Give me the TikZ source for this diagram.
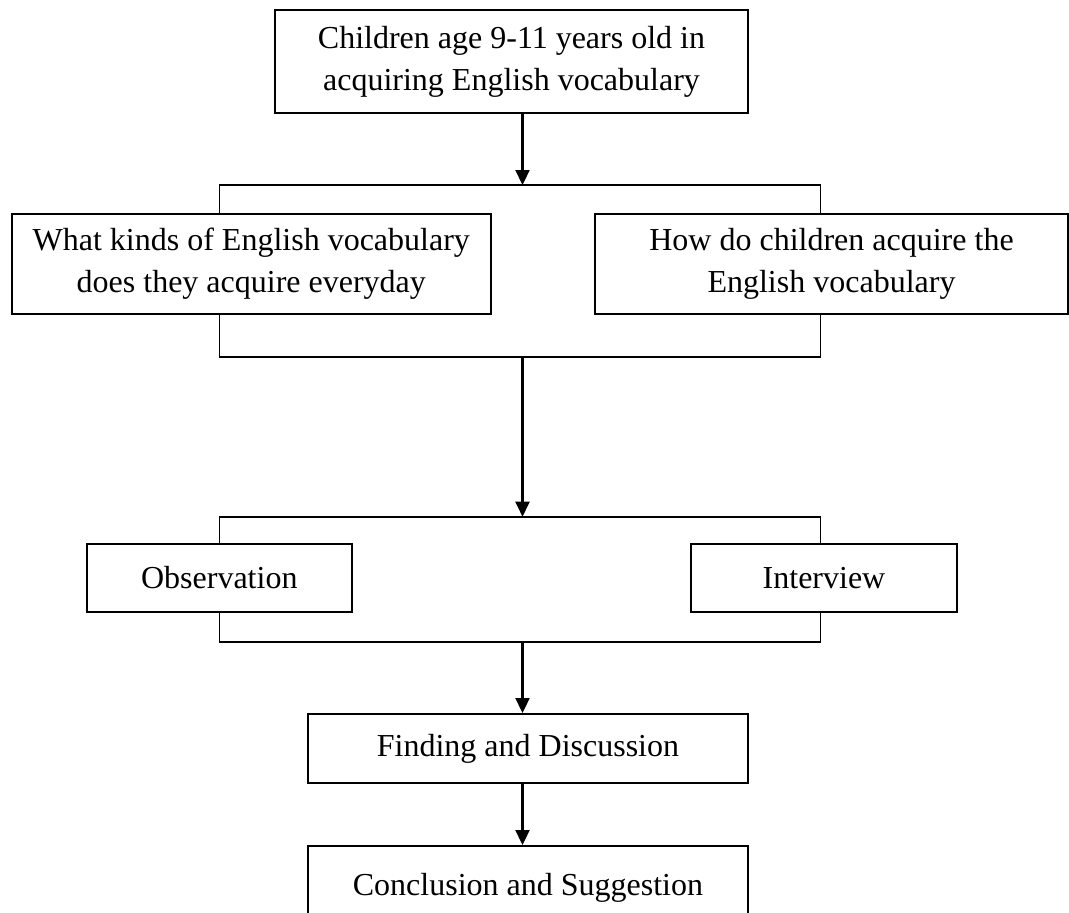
\documentclass[tikz,border=0pt]{standalone}
\usepackage{fontspec}
\setmainfont{Liberation Serif}
\usepackage{tikz}
\usetikzlibrary{
  arrows.meta,
  calc
}
\tikzset{
  flowbox/.style={
    draw, line width=1pt, align=center, inner sep=0pt,
    font=\fontsize{16}{21}\selectfont
  },
  bigbox/.style={flowbox, minimum height=50pt},
  smallbox/.style={flowbox, minimum height=34pt},
  bracketline/.style={line width=0.8pt},
  flow/.style={-{Triangle[length=7.5pt, width=7pt]}, line width=1.1pt}
}

\begin{document}
\begin{tikzpicture}[x=0.5pt, y=-0.5pt]
  \useasboundingbox (0,0) rectangle (1069,912);
  \clip (0,0) rectangle (1069,912);
  % boxes
  \node[bigbox, minimum width=236.5pt, minimum height=51.5pt] (a) at (511.5,61.5)
    {Children age 9-11 years old in\\acquiring English vocabulary};
  \node[bigbox, minimum width=239.7pt] (b) at (251.3,264)
    {What kinds of English vocabulary\\does they acquire everyday};
  \node[bigbox, minimum width=236.5pt] (c) at (831.5,264)
    {How do children acquire the\\English vocabulary};
  \node[smallbox, minimum width=132.7pt] (d) at (219.3,578) {Observation};
  \node[smallbox, minimum width=133pt] (e) at (824,578) {Interview};
  \node[smallbox, minimum width=220pt, minimum height=34.5pt] (f) at (528,748.5)
    {Finding and Discussion};
  \node[smallbox, minimum width=220pt, minimum height=42pt] (g) at (528,888)
    {Conclusion and Suggestion};
  % bracket corners and spine
  \coordinate (spine) at (522.5,0);
  \coordinate (b1l) at (219.5,185);
  \coordinate (b1r) at (820.5,185);
  \coordinate (b2l) at (219.5,356.7);
  \coordinate (b2r) at (820.5,356.7);
  \coordinate (b3l) at (219.5,516.7);
  \coordinate (b3r) at (820.5,516.7);
  \coordinate (b4l) at (219.5,641.7);
  \coordinate (b4r) at (820.5,641.7);
  % brackets
  \draw[bracketline] (b1l |- b.north) -- (b1l) -- (b1r) -- (b1r |- c.north);
  \draw[bracketline] (b2l |- b.south) -- (b2l) -- (b2r) -- (b2r |- c.south);
  \draw[bracketline] (b3l |- d.north) -- (b3l) -- (b3r) -- (b3r |- e.north);
  \draw[bracketline] (b4l |- d.south) -- (b4l) -- (b4r) -- (b4r |- e.south);
  % arrows
  \draw[flow] (spine |- a.south) -- (spine |- b1l);
  \draw[flow] (spine |- b2l) -- (spine |- b3l);
  \draw[flow] (spine |- b4l) -- (spine |- f.north);
  \draw[flow] (spine |- f.south) -- (spine |- g.north);
\end{tikzpicture}
\end{document}
